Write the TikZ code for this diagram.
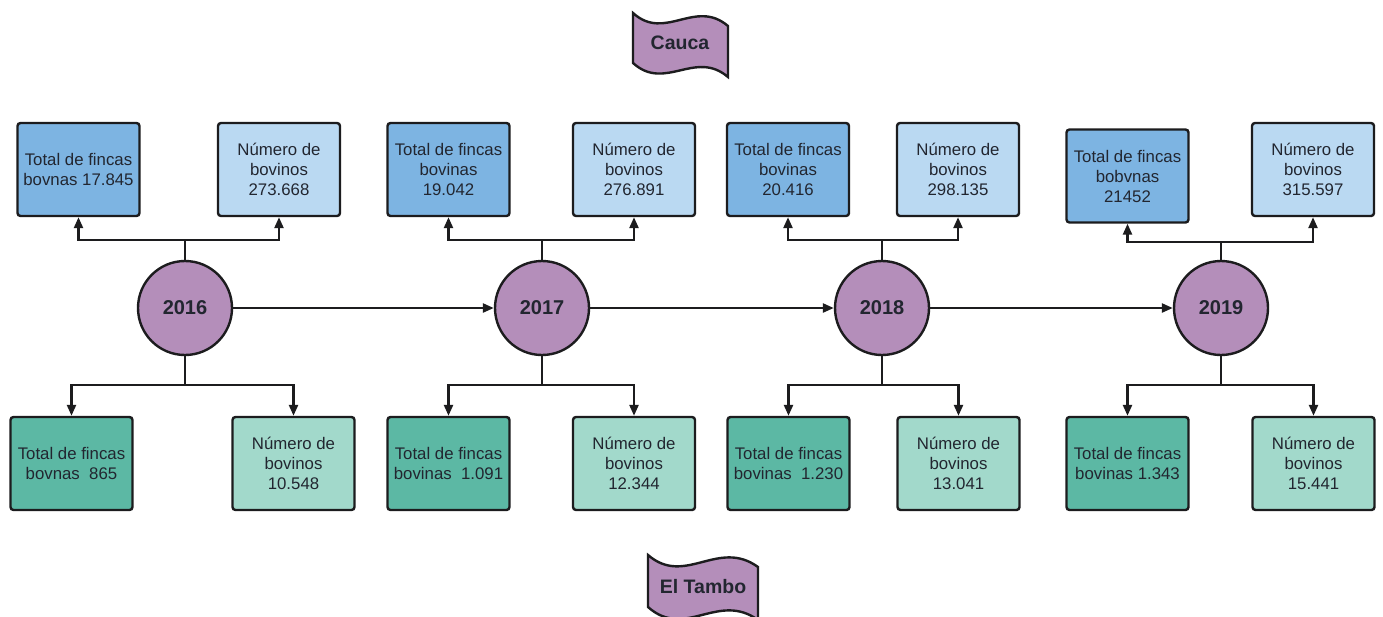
\documentclass[tikz,border=0pt]{standalone}
\usepackage{fontspec}
\setmainfont{Liberation Sans}
\usetikzlibrary{arrows.meta}
\definecolor{topL}{RGB}{125,180,226}
\definecolor{topR}{RGB}{186,217,242}
\definecolor{botL}{RGB}{92,184,164}
\definecolor{botR}{RGB}{162,217,203}
\definecolor{yearfill}{RGB}{180,142,186}
\definecolor{inkline}{RGB}{28,28,30}
\definecolor{inktext}{RGB}{34,38,48}
\begin{document}
\begin{tikzpicture}[x=1pt,y=-1pt,
  infobox/.style={draw=inkline, line width=2.4pt, rounded corners=3pt,
    minimum width=122pt, minimum height=93pt, align=center, text=inktext,
    inner sep=2pt, font=\fontsize{16.8}{20}\selectfont},
  yearnode/.style={circle, draw=inkline, line width=2.4pt, fill=yearfill,
    minimum size=94pt, inner sep=0pt, text=inktext,
    font=\fontsize{20}{22}\selectfont\bfseries},
  flagshape/.style={draw=inkline, line width=2.4pt, fill=yearfill},
  flagtext/.style={text=inktext, font=\fontsize{19.5}{22}\selectfont\bfseries},
  link/.style={draw=inkline, line width=2.4pt},
  arr/.style={link, -{Triangle[length=11pt,width=9pt]}}]
\useasboundingbox (0,0) rectangle (1383,616);
\fill[white] (0,0) rectangle (1383,616);

% region banners
\draw[flagshape] (633,13) .. controls (665,42) and (695,-2) .. (728,26)
  -- (728,77) .. controls (695,49) and (665,92) .. (633,63) -- cycle;
\node[flagtext] (cauca) at (680,43) {Cauca};
\draw[flagshape] (648,555) .. controls (685,587) and (718,538) .. (758,567)
  -- (758,620) .. controls (718,591) and (685,640) .. (648,607) -- cycle;
\node[flagtext] (tambo) at (703,587) {El Tambo};

% years
\node[yearnode] (C16) at (185,308) {2016};
\node[yearnode] (C17) at (542,308) {2017};
\node[yearnode] (C18) at (882,308) {2018};
\node[yearnode] (C19) at (1221,308) {2019};

% Cauca figures
\node[infobox, fill=topL] (T16a) at (78.5,169.5) {Total de fincas\\bovnas 17.845};
\node[infobox, fill=topR] (T16b) at (279,169.5) {Número de\\bovinos\\273.668};
\node[infobox, fill=topL] (T17a) at (448.5,169.5) {Total de fincas\\bovinas\\19.042};
\node[infobox, fill=topR] (T17b) at (634,169.5) {Número de\\bovinos\\276.891};
\node[infobox, fill=topL] (T18a) at (788,169.5) {Total de fincas\\bovinas\\20.416};
\node[infobox, fill=topR] (T18b) at (958,169.5) {Número de\\bovinos\\298.135};
\node[infobox, fill=topL] (T19a) at (1127.5,176) {Total de fincas\\bobvnas\\21452};
\node[infobox, fill=topR] (T19b) at (1313,169.5) {Número de\\bovinos\\315.597};

% El Tambo figures
\node[infobox, fill=botL] (B16a) at (71.5,463.5) {Total de fincas\\bovnas~~865};
\node[infobox, fill=botR] (B16b) at (293.5,463.5) {Número de\\bovinos\\10.548};
\node[infobox, fill=botL] (B17a) at (448.5,463.5) {Total de fincas\\bovinas~~1.091};
\node[infobox, fill=botR] (B17b) at (634,463.5) {Número de\\bovinos\\12.344};
\node[infobox, fill=botL] (B18a) at (788.5,463.5) {Total de fincas\\bovinas~~1.230};
\node[infobox, fill=botR] (B18b) at (958.5,463.5) {Número de\\bovinos\\13.041};
\node[infobox, fill=botL] (B19a) at (1127.5,463.5) {Total de fincas\\bovinas 1.343};
\node[infobox, fill=botR] (B19b) at (1313.5,463.5) {Número de\\bovinos\\15.441};

% branch points
\coordinate (J16t) at (185,240);  \coordinate (J16b) at (185,385);
\coordinate (J17t) at (542,240);  \coordinate (J17b) at (542,385);
\coordinate (J18t) at (882,240);  \coordinate (J18b) at (882,385);
\coordinate (J19t) at (1221,242); \coordinate (J19b) at (1221,385);

% timeline
\draw[arr] (C16.east) -- (C17.west);
\draw[arr] (C17.east) -- (C18.west);
\draw[arr] (C18.east) -- (C19.west);

% branches
\foreach \y in {16,17,18,19}{
  \draw[link] (C\y.north) -- (J\y t);
  \draw[arr] (J\y t) -| (T\y a.south);
  \draw[arr] (J\y t) -| (T\y b.south);
  \draw[link] (C\y.south) -- (J\y b);
  \draw[arr] (J\y b) -| (B\y a.north);
  \draw[arr] (J\y b) -| (B\y b.north);
}
\end{tikzpicture}
\end{document}
